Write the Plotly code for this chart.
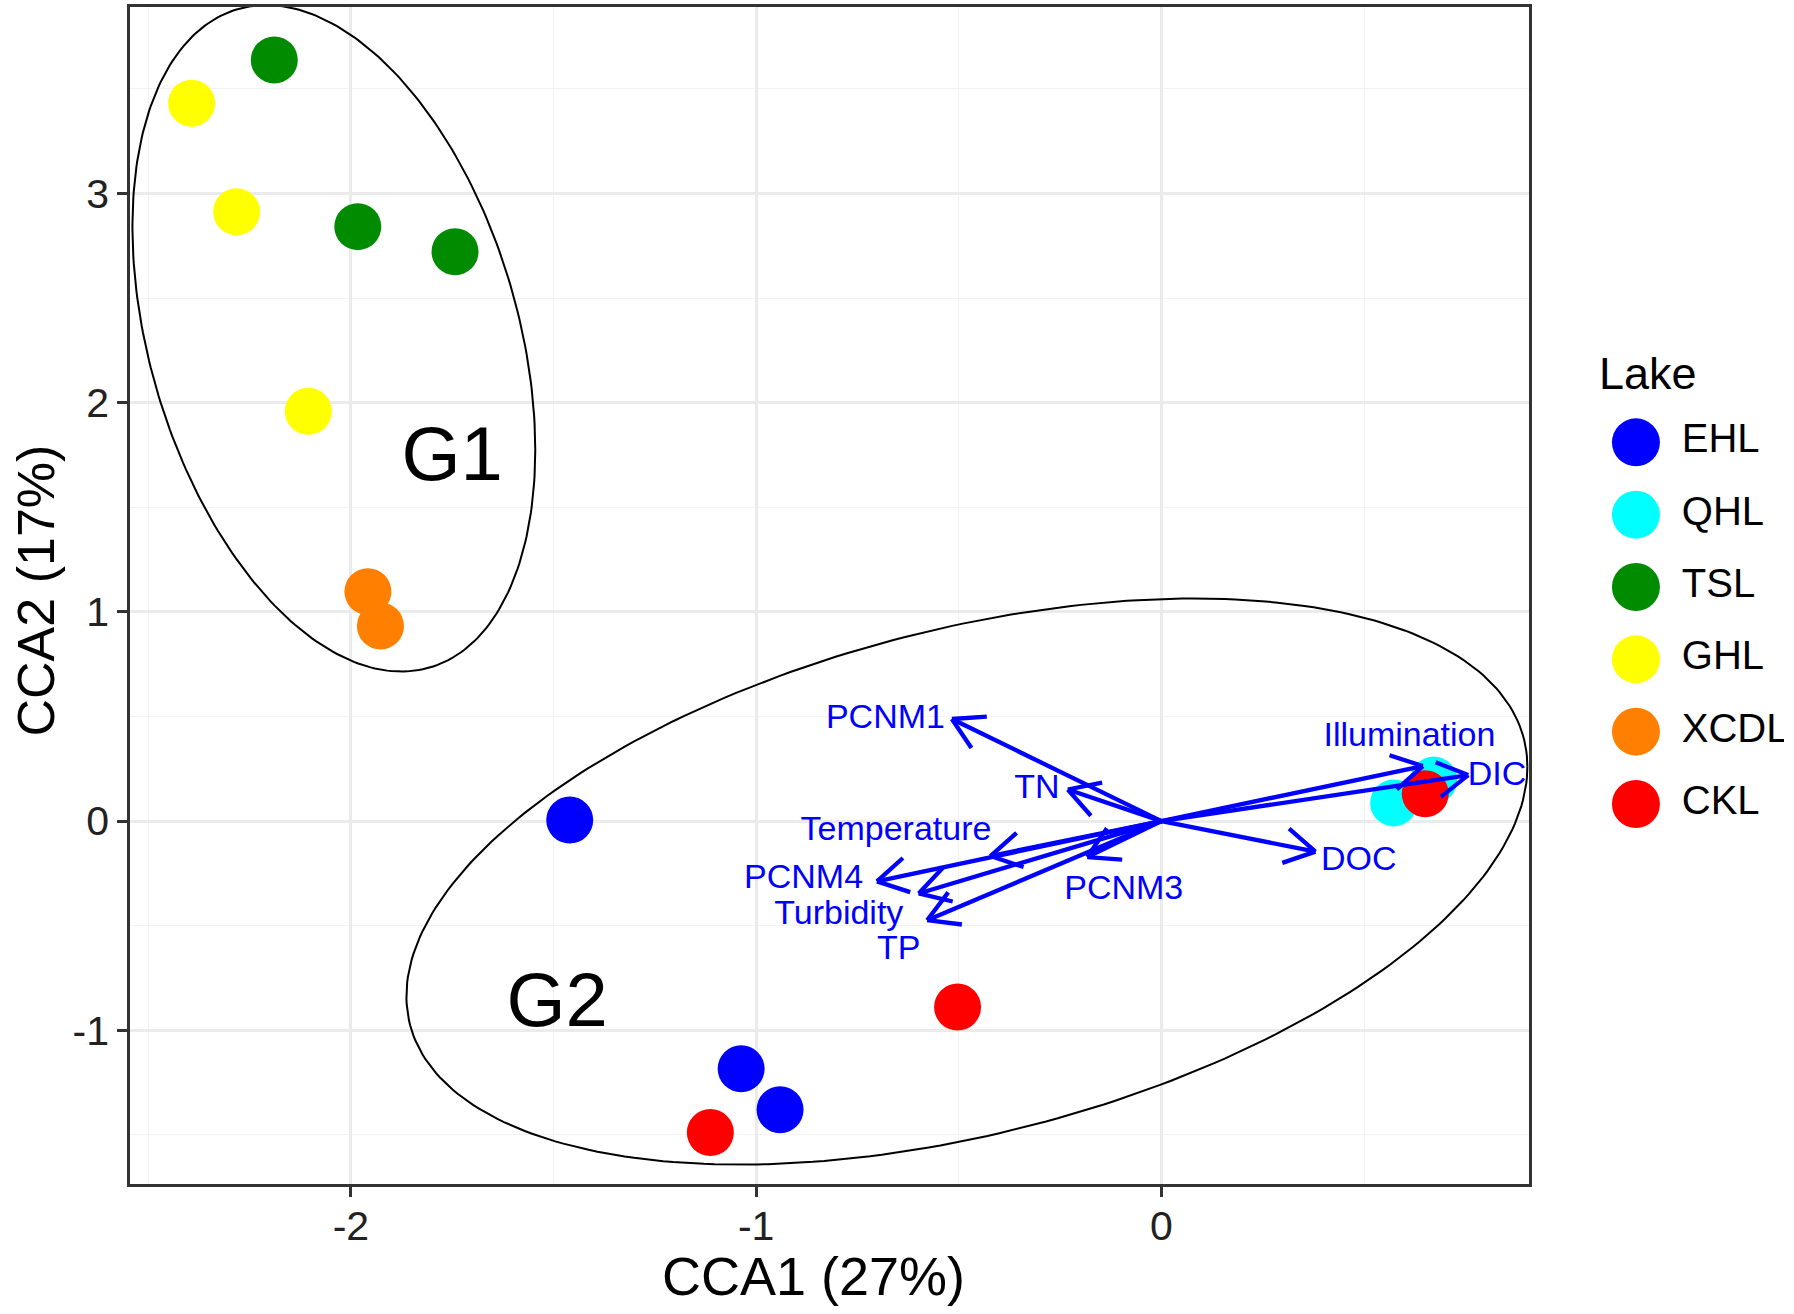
import numpy as np
import plotly.graph_objects as go

# lakes and their colours
lakes = ["EHL", "QHL", "TSL", "GHL", "XCDL", "CKL"]
lake_colors = ["#0000FF", "#00FFFF", "#008B00", "#FFFF00", "#FF7F00", "#FF0000"]

# site scores
site_lake = ["EHL", "EHL", "EHL", "QHL", "QHL", "TSL", "TSL", "TSL",
             "GHL", "GHL", "GHL", "XCDL", "XCDL", "CKL", "CKL", "CKL"]
site_cca1 = [-1.460, -1.037, -0.941, 0.573, 0.672, -2.189, -1.983, -1.743,
             -2.393, -2.282, -2.105, -1.958, -1.927, -0.503, -1.113, 0.651]
site_cca2 = [0.005, -1.184, -1.380, 0.087, 0.196, 3.639, 2.842, 2.722,
             3.432, 2.913, 1.959, 1.097, 0.933, -0.889, -1.489, 0.131]

# environmental vectors (biplot arrows) and their label positions
env_names = ["PCNM1", "TN", "Temperature", "PCNM4", "Turbidity", "TP",
             "PCNM3", "DOC", "Illumination", "DIC"]
env_cca1 = [-0.517, -0.231, -0.422, -0.702, -0.599, -0.578, -0.183, 0.380, 0.645, 0.757]
env_cca2 = [0.488, 0.151, -0.167, -0.288, -0.346, -0.474, -0.172, -0.146, 0.263, 0.220]
lab_cca1 = [-0.681, -0.307, -0.655, -0.883, -0.796, -0.648, -0.093, 0.487, 0.612, 0.828]
lab_cca2 = [0.488, 0.151, -0.052, -0.279, -0.449, -0.617, -0.330, -0.194, 0.399, 0.215]

# group ellipses: centre, half extents, correlation
groups = ["G1", "G2"]
grp_cx = [-2.042, -0.480]
grp_cy = [2.308, -0.289]
grp_rx = [0.497, 1.383]
grp_ry = [1.593, 1.353]
grp_rho = [-0.335, 0.405]
grp_lab_x = [-1.750, -1.491]
grp_lab_y = [1.720, -0.888]

x_tick_vals = [-2, -1, 0]
x_tick_text = ["-2", "-1", "0"]
y_tick_vals = [-1, 0, 1, 2, 3]
y_tick_text = ["-1", "0", "1", "2", "3"]

X_RANGE = [-2.545, 0.907]
Y_RANGE = [-1.735, 3.892]
W, H = 1794, 1314
ML, MR, MT, MB = 130, 10, 4, 130
PLOT_W = 1399
DOM_X = PLOT_W / (W - ML - MR)
FONT = "Liberation Sans, Arial, sans-serif"
ARROW_COL = "#0000FF"

fig = go.Figure()

# ellipses
t = np.linspace(0, 2 * np.pi, 300)
for i in range(len(groups)):
    ex = grp_cx[i] + grp_rx[i] * np.cos(t)
    ey = grp_cy[i] + grp_ry[i] * (grp_rho[i] * np.cos(t) + np.sqrt(1 - grp_rho[i] ** 2) * np.sin(t))
    fig.add_trace(go.Scatter(x=ex, y=ey, mode="lines", line=dict(color="black", width=2),
                             hoverinfo="skip", showlegend=False))

# site points
for lake, col in zip(lakes, lake_colors):
    xs = [x for x, l in zip(site_cca1, site_lake) if l == lake]
    ys = [y for y, l in zip(site_cca2, site_lake) if l == lake]
    fig.add_trace(go.Scatter(x=xs, y=ys, mode="markers", name=lake,
                             marker=dict(color=col, size=47, line=dict(width=0)),
                             showlegend=False))

# arrows with open heads, head geometry done in pixel space
sx = PLOT_W / (X_RANGE[1] - X_RANGE[0])
sy = (H - MT - MB) / (Y_RANGE[1] - Y_RANGE[0])
head_len = 35
head_ang = np.radians(30)
ax_, ay_ = [], []
for x1, y1 in zip(env_cca1, env_cca2):
    ax_ += [0, x1, None]
    ay_ += [0, y1, None]
    ang = np.arctan2(y1 * sy, x1 * sx)
    for s in (-1, 1):
        a = ang + np.pi + s * head_ang
        ax_ += [x1, x1 + head_len * np.cos(a) / sx, None]
        ay_ += [y1, y1 + head_len * np.sin(a) / sy, None]
fig.add_trace(go.Scatter(x=ax_, y=ay_, mode="lines", line=dict(color=ARROW_COL, width=4.3),
                         hoverinfo="skip", showlegend=False))

fig.add_trace(go.Scatter(x=lab_cca1, y=lab_cca2, mode="text", text=env_names,
                         textfont=dict(color=ARROW_COL, size=34, family=FONT),
                         hoverinfo="skip", showlegend=False))

fig.add_trace(go.Scatter(x=grp_lab_x, y=grp_lab_y, mode="text", text=groups,
                         textfont=dict(color="black", size=76, family=FONT),
                         hoverinfo="skip", showlegend=False))

# legend drawn on its own hidden axes so the keys can be large
leg_pos = list(range(len(lakes)))
fig.add_trace(go.Scatter(x=[0.254] * len(lakes), y=leg_pos, mode="markers",
                         marker=dict(color=lake_colors, size=48), xaxis="x2", yaxis="y2",
                         hoverinfo="skip", showlegend=False))
fig.add_trace(go.Scatter(x=[0.485] * len(lakes), y=leg_pos, mode="text", text=lakes,
                         textposition="middle right",
                         textfont=dict(color="black", size=40, family=FONT),
                         xaxis="x2", yaxis="y2", hoverinfo="skip", showlegend=False))
fig.add_annotation(x=0.06, y=-0.95, xref="x2", yref="y2", text="Lake", showarrow=False,
                   xanchor="left", font=dict(size=45, color="black", family=FONT))

# axis titles
fig.add_annotation(x=0.413, y=-0.078, xref="paper", yref="paper", text="CCA1 (27%)",
                   showarrow=False, xanchor="center", yanchor="middle",
                   font=dict(size=54, color="black", family=FONT))
fig.add_annotation(x=-0.057, y=0.504, xref="paper", yref="paper", text="CCA2 (17%)",
                   showarrow=False, textangle=-90, xanchor="center", yanchor="middle",
                   font=dict(size=52, color="black", family=FONT))

axis_common = dict(
    showgrid=True, gridcolor="#EBEBEB", gridwidth=2.5, zeroline=False,
    showline=True, linecolor="#333333", linewidth=2.5, mirror=True,
    ticks="outside", ticklen=10, tickwidth=2.5, tickcolor="#333333",
    tickfont=dict(size=41, color="#222222", family=FONT),
    minor=dict(dtick=0.5, tick0=0, showgrid=True, gridcolor="#F2F2F2", gridwidth=1.3, ticks=""),
)

fig.update_layout(
    width=W, height=H,
    margin=dict(l=ML, r=MR, t=MT, b=MB),
    paper_bgcolor="white", plot_bgcolor="white",
    font=dict(family=FONT, color="black"),
    showlegend=False,
    xaxis=dict(range=X_RANGE, domain=[0, DOM_X],
               tickvals=x_tick_vals, ticktext=x_tick_text, ticklabelstandoff=-6,
               **axis_common),
    yaxis=dict(range=Y_RANGE,
               tickvals=y_tick_vals, ticktext=y_tick_text,
               **axis_common),
    xaxis2=dict(domain=[0.88, 1.0], range=[0, 1], visible=False),
    yaxis2=dict(domain=[0, 1], range=[10.255, -6.02], visible=False, anchor="x2"),
)

fig.write_html("out.html", config={"displayModeBar": False},
               post_script="document.body.style.margin='0';")
